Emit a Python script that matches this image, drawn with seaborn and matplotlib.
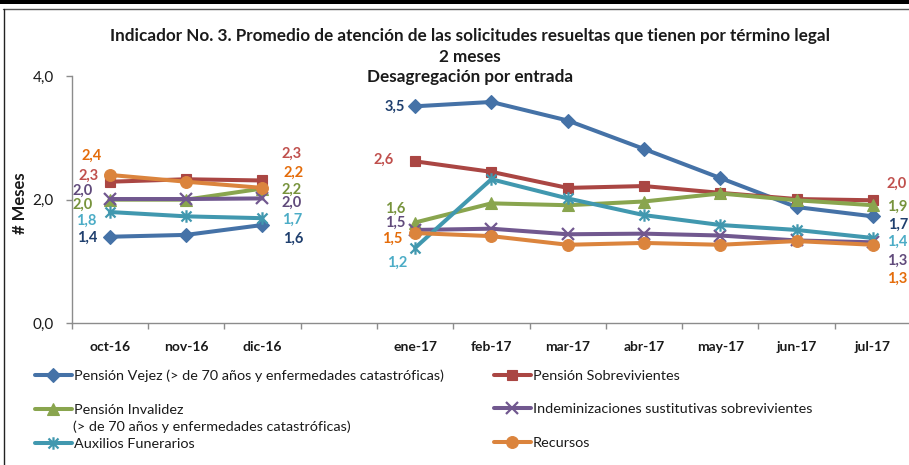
import numpy as np
import pandas as pd
import matplotlib
matplotlib.use("Agg")
import matplotlib.pyplot as plt
import seaborn as sns
from matplotlib.path import Path
from matplotlib.lines import Line2D
from matplotlib.patches import Rectangle

# ---------------- data ----------------
categories = ["oct-16", "nov-16", "dic-16", "", "ene-17", "feb-17", "mar-17",
              "abr-17", "may-17", "jun-17", "jul-17"]
segment_of = [0, 0, 0, -1, 1, 1, 1, 1, 1, 1, 1]   # -1 = empty slot

vejez       = [1.40, 1.43, 1.59, np.nan, 3.51, 3.58, 3.28, 2.82, 2.35, 1.88, 1.73]
sobrev      = [2.29, 2.33, 2.31, np.nan, 2.62, 2.45, 2.19, 2.22, 2.11, 2.01, 1.99]
invalidez   = [2.00, 2.00, 2.18, np.nan, 1.63, 1.94, 1.91, 1.97, 2.10, 1.99, 1.91]
indemn      = [2.01, 2.01, 2.02, np.nan, 1.51, 1.53, 1.44, 1.45, 1.42, 1.34, 1.31]
auxilios    = [1.80, 1.73, 1.70, np.nan, 1.22, 2.33, 2.02, 1.75, 1.59, 1.51, 1.38]
recursos    = [2.40, 2.29, 2.19, np.nan, 1.46, 1.41, 1.27, 1.30, 1.27, 1.33, 1.27]

series_names = [
    "Pensión Vejez (> de 70 años y enfermedades catastróficas)",
    "Pensión Sobrevivientes",
    "Pensión Invalidez",
    "Indeminizaciones sustitutivas sobrevivientes",
    "Auxilios Funerarios",
    "Recursos",
]
series_values = [vejez, sobrev, invalidez, indemn, auxilios, recursos]
invalidez_note = "(> de 70 años y enfermedades catastróficas)"

title_lines = ["Indicador No. 3. Promedio de atención de las solicitudes resueltas que tienen por término legal",
               "2 meses", "Desagregación por entrada"]
y_ticks = [0, 2, 4]
y_tick_labels = ["0,0", "2,0", "4,0"]
y_label = "# Meses"

# ---------------- styles ----------------
star = Path([(-1, -1), (1, 1), (-1, 1), (1, -1), (0, -1.25), (0, 1.25)],
            [Path.MOVETO, Path.LINETO, Path.MOVETO, Path.LINETO, Path.MOVETO, Path.LINETO])
line_colors = ["#4572A7", "#AA4643", "#89A54E", "#71588F", "#4198AF", "#DB843D"]
label_colors = ["#1F3F6E", "#C0504D", "#77933C", "#604A7B", "#4BACC6", "#E46C0A"]
markers = ["D", "s", "^", "x", star, "o"]
msizes = [7.5, 7.5, 8, 8, 9, 8.5]
# label offsets in pixels at the points oct, dic, ene, jul
label_idx = [0, 2, 4, 10]
label_offsets = [
    [(-23, -1), (31, -14), (-20, -1), (25, -8)],
    [(-21, 6), (29, 27), (-31, 2), (24, 16)],
    [(-27, -5), (29, -1), (-20, 14), (24, -2)],
    [(-27, 8), (29, -4), (-20, 7), (24, -18)],
    [(-24, -9), (30, -2), (-18, -15), (24, -4)],
    [(-18, 19), (31, 15), (-23, -6), (24, -34)],
]

sns.set_theme(style="white")
plt.rcParams["font.family"] = ["Lato", "DejaVu Sans"]

W, H = 909, 465
fig = plt.figure(figsize=(W / 100, H / 100), dpi=100)
fig.patch.set_facecolor("white")

x_left, x_right, y_bot, y_top = 71.7, 911, 323.3, 76
ax = fig.add_axes([x_left / W, (H - y_bot) / H, (x_right - x_left) / W, (y_bot - y_top) / H])
ax.set_facecolor("white")

pos = np.arange(len(categories))
handles = []
for i, (name, vals) in enumerate(zip(series_names, series_values)):
    df = pd.DataFrame({"pos": pos, "value": vals, "seg": segment_of})
    df = df[df["seg"] >= 0]
    filled = markers[i] not in ("x",) and markers[i] is not star
    kw = dict(marker=markers[i], markersize=msizes[i], markeredgecolor=line_colors[i],
              markerfacecolor=line_colors[i], markeredgewidth=1.6 if not filled else 0.8)
    sns.lineplot(data=df, x="pos", y="value", units="seg", estimator=None, ax=ax,
                 color=line_colors[i], linewidth=2.9, legend=False, zorder=3 + i * 0.1,
                 **kw)
    handles.append(Line2D([], [], color=line_colors[i], linewidth=2.9, **kw))
    for j, (dx, dy) in zip(label_idx, label_offsets[i]):
        v = vals[j]
        ax.annotate(f"{v:.1f}".replace(".", ","), (pos[j], v), xytext=(dx, dy),
                    textcoords="offset pixels", ha="center", va="center",
                    fontsize=10.5, fontweight="bold", color=label_colors[i],
                    annotation_clip=False, zorder=10)

ax.set_xlim(-0.5, len(categories) - 0.5)
ax.set_ylim(0, 4)
ax.set_xlabel("")
ax.set_ylabel("")
for s in ["top", "right"]:
    ax.spines[s].set_visible(False)
for s in ["left", "bottom"]:
    ax.spines[s].set_color("#8C8C8C")
    ax.spines[s].set_linewidth(1.0)

ax.set_yticks(y_ticks)
ax.set_yticklabels(y_tick_labels, fontsize=11, color="#1A1A1A")
ax.tick_params(axis="y", direction="out", length=4, width=1, color="#8C8C8C", pad=9, left=True)
ax.set_xticks(np.arange(-0.5, len(categories), 1.0))
ax.set_xticklabels([])
ax.set_xticks(pos, minor=True)
ax.set_xticklabels(categories, minor=True, fontsize=10, fontweight="bold", color="#1A1A1A")
ax.tick_params(axis="x", which="major", direction="out", length=4, width=1, color="#8C8C8C", bottom=True)
ax.tick_params(axis="x", which="minor", length=0, pad=13)
ax.grid(False)

fig.text(20 / W, 1 - 203 / H, y_label, rotation=90, ha="center", va="center",
         fontsize=12, fontweight="bold", color="#1A1A1A")

for k, (t, yy) in enumerate(zip(title_lines, [36, 57, 77])):
    fig.text(470 / W, 1 - yy / H, t, ha="center", va="center", fontsize=12.3,
             fontweight="bold", color="#1A1A1A")

# legend: two columns
order_left = [0, 2, 4]
order_right = [1, 3, 5]
common = dict(frameon=False, fontsize=10.4, handlelength=2.56, handletextpad=0.12,
              labelspacing=1.5, borderpad=0, borderaxespad=0, loc="upper left",
              labelcolor="#1A1A1A")
leg1 = fig.legend([handles[i] for i in order_left], [series_names[i] for i in order_left],
                  bbox_to_anchor=(35 / W, 1 - 369.5 / H), **common)
leg2 = fig.legend([handles[i] for i in order_right], [series_names[i] for i in order_right],
                  bbox_to_anchor=(494 / W, 1 - 369.5 / H), **common)
fig.text(73 / W, 1 - 427 / H, invalidez_note, ha="left", va="center", fontsize=10.4, color="#1A1A1A")

# chart frame
fig.patches.append(Rectangle((0, 1 - 4 / H), 1, 4 / H, transform=fig.transFigure,
                             facecolor="black", edgecolor="none"))
fig.lines.append(Line2D([3 / W, 1], [1 - 9.5 / H] * 2, transform=fig.transFigure, color="#555555", lw=1))
fig.lines.append(Line2D([3.5 / W] * 2, [0, 1 - 9.5 / H], transform=fig.transFigure, color="#222222", lw=1))

fig.savefig("out.png", dpi=100)
